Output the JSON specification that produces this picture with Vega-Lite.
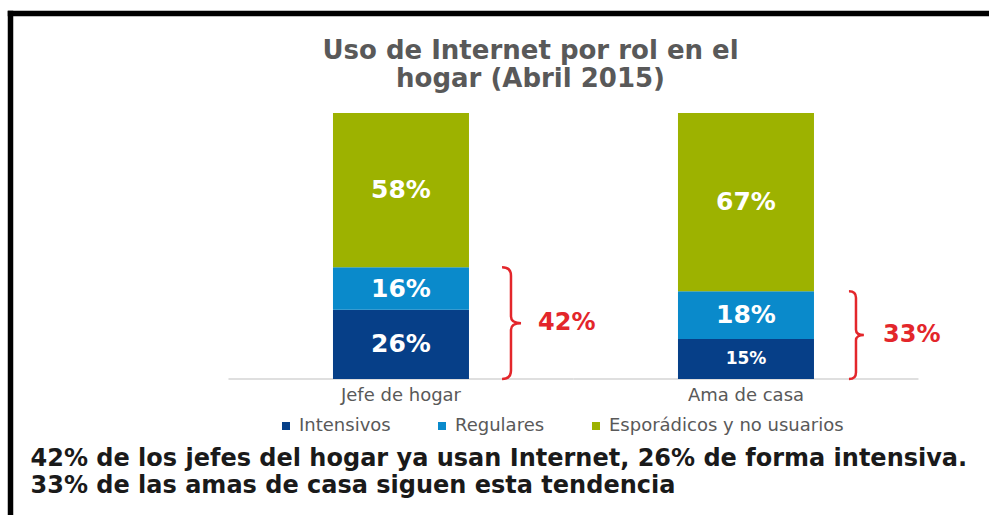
{
  "$schema": "https://vega.github.io/schema/vega-lite/v6.json",
  "width": 979,
  "height": 502,
  "autosize": {"type": "none"},
  "padding": {"left": 10, "top": 13, "right": 0, "bottom": 0},
  "background": "white",
  "config": {"view": {"stroke": null}, "font": "DejaVu Sans"},
  "title": {
    "text": ["Uso de Internet por rol en el", "hogar (Abril 2015)"],
    "anchor": "middle",
    "frame": "group",
    "baseline": "top",
    "offset": 0,
    "dx": 31,
    "dy": 79,
    "lineHeight": 28,
    "fontSize": 26,
    "font": "DejaVu Sans",
    "fontWeight": "bold",
    "color": "#595959"
  },
  "datasets": {
    "uso": [
      {"rol": "Jefe de hogar", "tipo": "Intensivos", "orden": 1, "valor": 0.26},
      {"rol": "Jefe de hogar", "tipo": "Regulares", "orden": 2, "valor": 0.16},
      {"rol": "Jefe de hogar", "tipo": "Esporádicos y no usuarios", "orden": 3, "valor": 0.58},
      {"rol": "Ama de casa", "tipo": "Intensivos", "orden": 1, "valor": 0.15},
      {"rol": "Ama de casa", "tipo": "Regulares", "orden": 2, "valor": 0.18},
      {"rol": "Ama de casa", "tipo": "Esporádicos y no usuarios", "orden": 3, "valor": 0.67}
    ],
    "usuarios": [
      {"rol": "Jefe de hogar", "total": 0.42},
      {"rol": "Ama de casa", "total": 0.33}
    ],
    "roles": [{"rol": "Jefe de hogar"}, {"rol": "Ama de casa"}]
  },
  "encoding": {
    "x": {
      "field": "rol",
      "type": "nominal",
      "sort": ["Jefe de hogar", "Ama de casa"],
      "scale": {"paddingInner": 0, "paddingOuter": 0.41884, "align": 0.756},
      "axis": {
        "orient": "top",
        "title": null,
        "labels": false,
        "ticks": false,
        "grid": false,
        "domainColor": "#000000",
        "domainWidth": 5.5,
        "domainCap": "square"
      }
    }
  },
  "layer": [
    {
      "data": {"name": "roles"},
      "mark": {"type": "bar", "width": {"band": 1}, "color": "#d4d4d4"},
      "encoding": {
        "y": {"datum": -0.003, "type": "quantitative", "scale": {"domain": [-0.5113, 1.3759], "nice": false, "zero": false}},
        "y2": {"datum": 0.003}
      }
    },
    {
      "data": {"name": "uso"},
      "transform": [
        {"stack": "valor", "groupby": ["rol"], "sort": [{"field": "orden", "order": "ascending"}], "as": ["v0", "v1"]},
        {"calculate": "(datum.v0 + datum.v1) / 2", "as": "mid"}
      ],
      "layer": [
        {
          "mark": {"type": "bar", "width": 136},
          "encoding": {
            "y": {
              "field": "v0",
              "type": "quantitative",
              "scale": {"domain": [-0.5113, 1.3759], "nice": false, "zero": false},
              "axis": {
                "orient": "left",
                "title": ["42% de los jefes del hogar ya usan Internet, 26% de forma intensiva.", "33% de las amas de casa siguen esta tendencia"],
                "labels": false,
                "ticks": false,
                "grid": false,
                "domainColor": "#000000",
                "domainWidth": 5.5,
                "domainCap": "square",
                "titleAngle": 0,
                "titleX": 20,
                "titleY": 433,
                "titleAlign": "left",
                "titleBaseline": "top",
                "titleFontSize": 24,
                "titleFontWeight": "bold",
                "titleFont": "DejaVu Sans",
                "titleColor": "#1a1a1a",
                "titleLineHeight": 27,
                "titleLimit": 0
              }
            },
            "y2": {"field": "v1"},
            "color": {
              "field": "tipo",
              "type": "nominal",
              "sort": ["Intensivos", "Regulares", "Esporádicos y no usuarios"],
              "scale": {
                "domain": ["Intensivos", "Regulares", "Esporádicos y no usuarios"],
                "range": ["#063f88", "#0a8acb", "#9db200"]
              },
              "legend": {
                "orient": "none",
                "direction": "horizontal",
                "legendX": 267,
                "legendY": 404,
                "title": null,
                "symbolType": "square",
                "symbolSize": 64,
                "symbolStrokeWidth": 0,
                "labelFontSize": 18,
                "labelFont": "DejaVu Sans",
                "labelColor": "#595959",
                "labelOffset": 4,
                "labelLimit": 0,
                "columnPadding": 42
              }
            }
          }
        },
        {
          "transform": [{"filter": "datum.valor >= 0.16"}],
          "mark": {"type": "text", "fontSize": 25, "fontWeight": "bold", "color": "#ffffff", "baseline": "middle", "font": "DejaVu Sans"},
          "encoding": {
            "y": {"field": "mid", "type": "quantitative", "scale": {"domain": [-0.5113, 1.3759], "nice": false, "zero": false}},
            "text": {"field": "valor", "type": "quantitative", "format": ".0%"}
          }
        },
        {
          "transform": [{"filter": "datum.valor < 0.16"}],
          "mark": {"type": "text", "fontSize": 17, "fontWeight": "bold", "color": "#ffffff", "baseline": "middle", "font": "DejaVu Sans"},
          "encoding": {
            "y": {"field": "mid", "type": "quantitative", "scale": {"domain": [-0.5113, 1.3759], "nice": false, "zero": false}},
            "text": {"field": "valor", "type": "quantitative", "format": ".0%"}
          }
        }
      ]
    },
    {
      "data": {"name": "roles"},
      "mark": {"type": "text", "baseline": "top", "dy": 8, "fontSize": 18, "color": "#595959", "font": "DejaVu Sans"},
      "encoding": {
        "y": {"datum": 0, "type": "quantitative", "scale": {"domain": [-0.5113, 1.3759], "nice": false, "zero": false}},
        "text": {"field": "rol"}
      }
    },
    {
      "data": {"name": "usuarios"},
      "transform": [{"calculate": "datum.total / 2", "as": "mid"}],
      "layer": [
        {
          "mark": {
            "type": "point",
            "shape": "M -0.16 -1 Q 0 -1 0 -0.85 L 0 -0.12 Q 0 0 0.18 0 Q 0 0 0 0.12 L 0 0.85 Q 0 1 -0.16 1",
            "filled": false,
            "stroke": "#e3262b",
            "strokeWidth": 2.5,
            "opacity": 1,
            "xOffset": 110
          },
          "encoding": {
            "y": {"field": "mid", "type": "quantitative", "scale": {"domain": [-0.5113, 1.3759], "nice": false, "zero": false}},
            "size": {
              "field": "total",
              "type": "quantitative",
              "scale": {"type": "pow", "exponent": 2, "domain": [0, 1], "range": [0, 70756]},
              "legend": null
            }
          }
        },
        {
          "mark": {"type": "text", "align": "left", "baseline": "middle", "dx": 137, "fontSize": 24, "fontWeight": "bold", "color": "#e3262b", "font": "DejaVu Sans"},
          "encoding": {
            "y": {"field": "mid", "type": "quantitative", "scale": {"domain": [-0.5113, 1.3759], "nice": false, "zero": false}},
            "text": {"field": "total", "type": "quantitative", "format": ".0%"}
          }
        }
      ]
    }
  ]
}
